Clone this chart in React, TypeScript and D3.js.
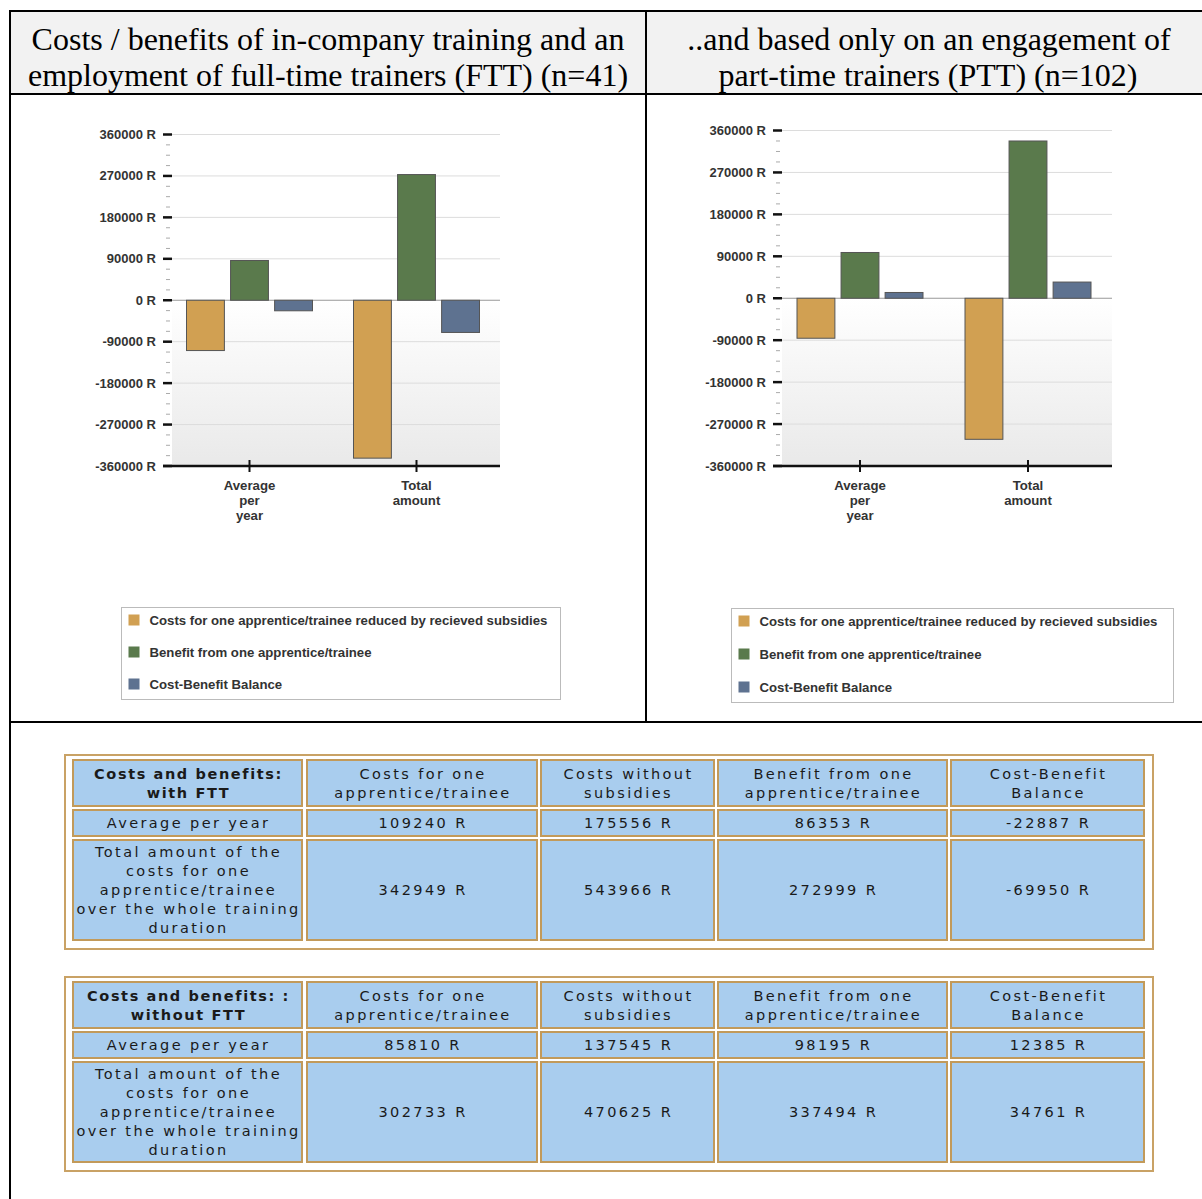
import * as d3 from 'd3'

// chart data
const categories = [["Average", "per", "year"], ["Total", "amount"]]
const seriesNames = [
  "Costs for one apprentice/trainee reduced by recieved subsidies",
  "Benefit from one apprentice/trainee",
  "Cost-Benefit Balance",
]
const seriesColors = ["#d1a052", "#5a7a4c", "#5e7290"]
const fttValues = [[-109240, 86353, -22887], [-342949, 272999, -69950]]
const pttValues = [[-85810, 98195, 12385], [-302733, 337494, 34761]]
const yTicks = d3.range(-360000, 360001, 90000)

// table data
const tableHeads = [
  ["Costs for one", "apprentice/trainee"],
  ["Costs without", "subsidies"],
  ["Benefit from one", "apprentice/trainee"],
  ["Cost-Benefit", "Balance"],
]
const rowLabelAvg = ["Average per year"]
const rowLabelTotal = ["Total amount of the", "costs for one", "apprentice/trainee", "over the whole training", "duration"]
const fttTitle = ["Costs and benefits:", "with FTT"]
const pttTitle = ["Costs and benefits: :", "without FTT"]
const fttAvgRow = [109240, 175556, 86353, -22887]
const fttTotalRow = [342949, 543966, 272999, -69950]
const pttAvgRow = [85810, 137545, 98195, 12385]
const pttTotalRow = [302733, 470625, 337494, 34761]

const sans = '"Liberation Sans", Arial, sans-serif'
const verdana = '"DejaVu Sans", Verdana, sans-serif'

type ChartProps = {
  values: number[][]
  axisX: number
  right: number
  yTop: number
  yBottom: number
  legend: { x: number; y: number; w: number; h: number; step: number }
  id: string
}

function BarChart({ values, axisX, right, yTop, yBottom, legend, id }: ChartProps) {
  const y = d3.scaleLinear().domain([-360000, 360000]).range([yBottom, yTop])
  const x0 = d3.scaleBand<number>().domain(d3.range(categories.length)).range([axisX + 3, right])
  const x1 = d3.scaleBand<number>().domain(d3.range(seriesNames.length)).range([0, 126]).paddingInner(0.14)
  const minor = d3.range(-360000, 360000, 22500).filter(v => v % 90000 !== 0)
  const plotLeft = axisX + 9
  return (
    <g>
      <defs>
        <linearGradient id={id + 'g'} x1="0" y1="0" x2="0" y2="1">
          <stop offset="0.5" stopColor="#ffffff" />
          <stop offset="1" stopColor="#e9e9e9" />
        </linearGradient>
      </defs>
      <rect x={plotLeft} y={y(360000)} width={right - plotLeft} height={y(-360000) - y(360000)} fill={`url(#${id}g)`} />
      {yTicks.map(t => (
        <g key={t}>
          {t !== -360000 && (
            <line x1={plotLeft} x2={right} y1={y(t)} y2={y(t)} stroke={t === 0 ? '#999' : '#dcdcdc'} strokeWidth={t === 0 ? 1.2 : 1} />
          )}
          <line x1={axisX} x2={axisX + 9} y1={y(t)} y2={y(t)} stroke="#111" strokeWidth={2.5} />
          <text x={axisX - 7} y={y(t)} dy="0.35em" textAnchor="end" fontFamily={sans} fontWeight="bold" fontSize={13} fill="#333">
            {t} R
          </text>
        </g>
      ))}
      {minor.map(t => (
        <line key={t} x1={axisX + 3} x2={axisX + 7} y1={y(t)} y2={y(t)} stroke="#aaa" strokeWidth={1} />
      ))}
      {values.map((group, i) =>
        group.map((v, j) => (
          <rect
            key={i + '-' + j}
            x={(x0(i) as number) + x0.bandwidth() / 2 - 63 + (x1(j) as number)}
            y={Math.min(y(v), y(0))}
            width={x1.bandwidth()}
            height={Math.abs(y(v) - y(0))}
            fill={seriesColors[j]}
            stroke="#555"
            strokeWidth={1}
          />
        ))
      )}
      <line x1={axisX} x2={right} y1={y(-360000)} y2={y(-360000)} stroke="#111" strokeWidth={2.5} />
      {categories.map((lines, i) => {
        const cx = (x0(i) as number) + x0.bandwidth() / 2
        return (
          <g key={i}>
            <line x1={cx} x2={cx} y1={y(-360000) - 6} y2={y(-360000) + 6} stroke="#111" strokeWidth={2} />
            {lines.map((l, k) => (
              <text key={k} x={cx} y={y(-360000) + 24 + k * 15} textAnchor="middle" fontFamily={sans} fontWeight="bold" fontSize={13.2} fill="#333">
                {l}
              </text>
            ))}
          </g>
        )
      })}
      <rect x={legend.x} y={legend.y} width={legend.w} height={legend.h} fill="#fff" stroke="#bbb" strokeWidth={1} />
      {seriesNames.map((s, j) => (
        <g key={s}>
          <rect x={legend.x + 7} y={legend.y + 7 + j * legend.step} width={11} height={11} fill={seriesColors[j]} />
          <text x={legend.x + 28} y={legend.y + 12.5 + j * legend.step} dy="0.35em" fontFamily={sans} fontWeight="bold" fontSize={13.2} fill="#333">
            {s}
          </text>
        </g>
      ))}
    </g>
  )
}

const colX = [[73, 302], [307, 537], [541, 714], [718, 947], [951, 1144]]

function CellText({ lines, cx, cy, bold }: { lines: string[]; cx: number; cy: number; bold?: boolean }) {
  const lh = 19
  const top = cy - ((lines.length - 1) * lh) / 2
  return (
    <g>
      {lines.map((l, k) => (
        <text key={k} x={cx} y={top + k * lh} dy="0.36em" textAnchor="middle" fontFamily={verdana} fontSize={14.5}
          fontWeight={bold ? 'bold' : 'normal'} letterSpacing={bold ? 1.6 : 2.4} fill="#1a1a1a">
          {l}
        </text>
      ))}
    </g>
  )
}

function CostTable({ top, title, avg, total }: { top: number; title: string[]; avg: number[]; total: number[] }) {
  const rows = [[top + 5, top + 51], [top + 55, top + 81], [top + 85, top + 185]]
  const fmt = (v: number) => `${v} R`
  const content: string[][][] = [
    [title, ...tableHeads],
    [rowLabelAvg, ...avg.map(v => [fmt(v)])],
    [rowLabelTotal, ...total.map(v => [fmt(v)])],
  ]
  return (
    <g>
      <rect x={65} y={top} width={1088} height={194} fill="#fff" stroke="#c9a265" strokeWidth={2} />
      {rows.map(([r0, r1], ri) =>
        colX.map(([c0, c1], ci) => (
          <g key={ri + '-' + ci}>
            <rect x={c0} y={r0} width={c1 - c0} height={r1 - r0} fill="#a9cdee" stroke="#c29a5a" strokeWidth={2} />
            <CellText lines={content[ri][ci]} cx={(c0 + c1) / 2 + 1} cy={(r0 + r1) / 2} bold={ri === 0 && ci === 0} />
          </g>
        ))
      )}
    </g>
  )
}

export default function App() {
  return (
    <svg width={1202} height={1199} style={{ position: 'absolute', left: 0, top: 0, background: '#fff' }}>
      <rect x={11} y={12} width={1191} height={82} fill="#f2f2f2" />
      <g fontFamily='"Liberation Serif", "Times New Roman", serif' fontSize={32} fill="#000" textAnchor="middle">
        <text x={328} y={50}>Costs / benefits of in-company training and an</text>
        <text x={328} y={86}>employment of full-time trainers (FTT) (n=41)</text>
        <text x={929} y={50}>..and based only on an engagement of</text>
        <text x={928} y={86}>part-time trainers (PTT) (n=102)</text>
      </g>
      <BarChart id="c1" values={fttValues} axisX={163} right={500} yTop={134.5} yBottom={466}
        legend={{ x: 121.5, y: 607.5, w: 439, h: 92, step: 32 }} />
      <BarChart id="c2" values={pttValues} axisX={773} right={1112} yTop={130.5} yBottom={466}
        legend={{ x: 731.5, y: 608.5, w: 442, h: 94, step: 33 }} />
      <CostTable top={755} title={fttTitle} avg={fttAvgRow} total={fttTotalRow} />
      <CostTable top={977} title={pttTitle} avg={pttAvgRow} total={pttTotalRow} />
      <g stroke="#000" strokeWidth={2}>
        <line x1={10} x2={1202} y1={11} y2={11} />
        <line x1={10} x2={1202} y1={94} y2={94} />
        <line x1={10} x2={1202} y1={722} y2={722} />
        <line x1={10} x2={10} y1={10} y2={1199} />
        <line x1={646} x2={646} y1={10} y2={722} />
      </g>
    </svg>
  )
}
